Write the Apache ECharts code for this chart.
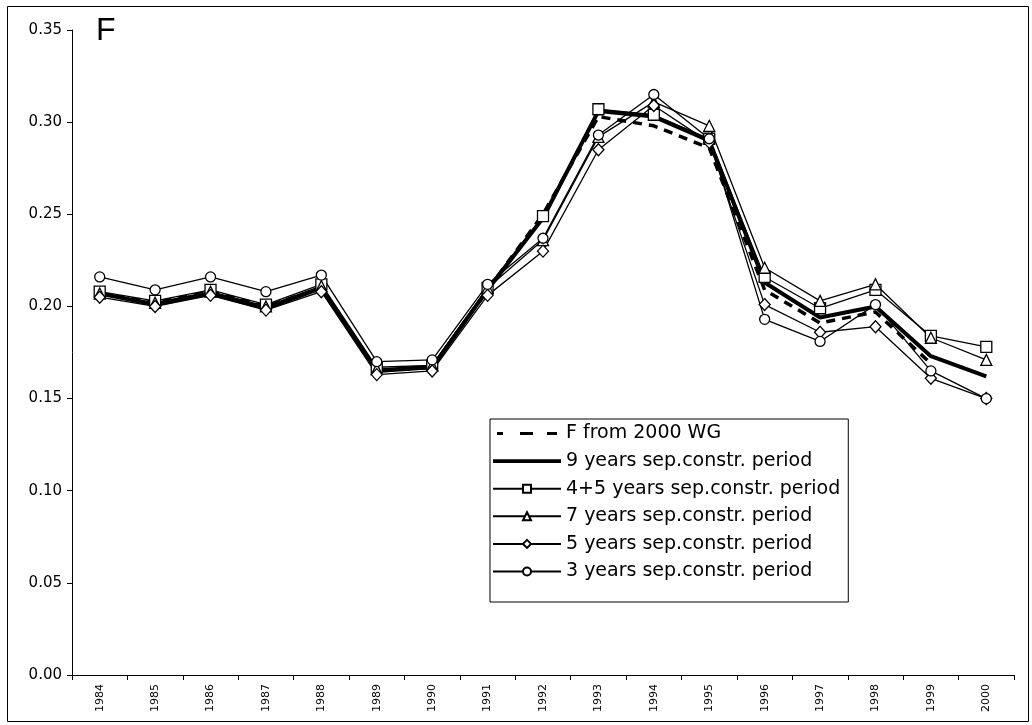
<!DOCTYPE html>
<html>
<head>
<meta charset="utf-8">
<script src="https://cdn.jsdelivr.net/npm/echarts@6/dist/echarts.min.js"></script>
<style>
  html, body { margin: 0; padding: 0; background: #fff; }
  #chart { width: 1032px; height: 725px; }
</style>
</head>
<body>
<div id="chart"></div>
<script>
// Fishing mortality F by year, for several separable-constraint periods
const years = ['1984','1985','1986','1987','1988','1989','1990','1991','1992',
               '1993','1994','1995','1996','1997','1998','1999','2000'];

const fWG2000 = [0.207,0.202,0.208,0.200,0.210,0.165,0.167,0.209,0.250,
                 0.303,0.298,0.286,0.209,0.191,0.197,0.169,null];
const sep9    = [0.207,0.201,0.207,0.199,0.210,0.165,0.167,0.209,0.248,
                 0.306,0.303,0.290,0.213,0.194,0.200,0.173,0.162];
const sep4p5  = [0.208,0.203,0.209,0.201,0.212,0.167,0.168,0.210,0.249,
                 0.307,0.304,0.291,0.216,0.199,0.209,0.184,0.178];
const sep7    = [0.207,0.202,0.208,0.200,0.211,0.166,0.168,0.210,0.236,
                 0.292,0.311,0.298,0.221,0.203,0.212,0.183,0.171];
const sep5    = [0.205,0.200,0.206,0.198,0.208,0.163,0.165,0.206,0.230,
                 0.285,0.309,0.289,0.201,0.186,0.189,0.161,0.150];
const sep3    = [0.216,0.209,0.216,0.208,0.217,0.170,0.171,0.212,0.237,
                 0.293,0.315,0.291,0.193,0.181,0.201,0.165,0.150];

const yTicks = { min: 0, max: 0.35, step: 0.05 };

const FONT = 'DejaVu Sans';

// Legend glyphs for the two marker-less series (bounding box 68 x 10,
// degenerate corner points keep the full box so the bars keep their thickness)
const BOX = 'M0,0 L0,0 Z M68,10 L68,10 Z ';
const dashedIcon = 'path://' + BOX +
  'M4,3.5 L10,3.5 L10,6.5 L4,6.5 Z M27,3.5 L40,3.5 L40,6.5 L27,6.5 Z M54,3.5 L64,3.5 L64,6.5 L54,6.5 Z';
const thickIcon = 'path://' + BOX + 'M0,3.2 L68,3.2 L68,6.8 L0,6.8 Z';

function markedLine(name, data, symbol, size) {
  return {
    name, type: 'line', data,
    symbol, symbolSize: size, showSymbol: true,
    lineStyle: { color: '#000', width: 1.3 },
    itemStyle: { color: '#fff', borderColor: '#000', borderWidth: 1.3 },
    emphasis: { disabled: true }
  };
}

const chart = echarts.init(document.getElementById('chart'), null, { renderer: 'canvas' });

chart.setOption({
  backgroundColor: '#fff',
  animation: false,
  textStyle: { fontFamily: FONT, color: '#000' },
  graphic: [
    {
      type: 'rect',
      shape: { x: 7.5, y: 6.5, width: 1021, height: 715 },
      style: { fill: 'none', stroke: '#000', lineWidth: 1 },
      silent: true
    },
    {
      type: 'text',
      left: 96, top: 15,
      style: { text: 'F', font: '32px "Liberation Sans", Arial, sans-serif', fill: '#000' },
      silent: true
    }
  ],
  grid: { left: 72, top: 30, right: 18, bottom: 50, containLabel: false },
  legend: {
    orient: 'vertical',
    left: 490, top: 419,
    padding: [5, 8, 21, 2],
    itemWidth: 68, itemHeight: 10, itemGap: 8.6,
    borderColor: '#000', borderWidth: 1,
    backgroundColor: '#fff',
    selectedMode: false,
    textStyle: { fontFamily: FONT, fontSize: 19, lineHeight: 19, color: '#000' },
    data: [
      { name: 'F from 2000 WG', icon: dashedIcon, itemStyle: { color: '#000' } },
      { name: '9 years sep.constr. period', icon: thickIcon, itemStyle: { color: '#000' } },
      '4+5 years sep.constr. period',
      '7 years sep.constr. period',
      '5 years sep.constr. period',
      '3 years sep.constr. period'
    ]
  },
  xAxis: {
    type: 'category',
    data: years,
    boundaryGap: true,
    axisLine: { lineStyle: { color: '#000', width: 1 } },
    axisTick: { show: true, length: 5, lineStyle: { color: '#000' } },
    axisLabel: { rotate: 90, fontSize: 11, margin: 9, color: '#000', fontFamily: FONT },
    splitLine: { show: false }
  },
  yAxis: {
    type: 'value',
    min: yTicks.min, max: yTicks.max, interval: yTicks.step,
    axisLine: { show: true, lineStyle: { color: '#000', width: 1 } },
    axisTick: { show: true, length: 5, lineStyle: { color: '#000' } },
    axisLabel: {
      fontSize: 15, margin: 10, color: '#000', fontFamily: FONT,
      formatter: v => v.toFixed(2)
    },
    splitLine: { show: false }
  },
  series: [
    {
      name: 'F from 2000 WG', type: 'line', data: fWG2000,
      symbol: 'none', connectNulls: false,
      lineStyle: { color: '#000', width: 3.5, type: [9, 7] },
      itemStyle: { color: '#000' },
      emphasis: { disabled: true }
    },
    {
      name: '9 years sep.constr. period', type: 'line', data: sep9,
      symbol: 'none',
      lineStyle: { color: '#000', width: 4 },
      itemStyle: { color: '#000' },
      emphasis: { disabled: true }
    },
    markedLine('4+5 years sep.constr. period', sep4p5, 'rect', 11),
    markedLine('7 years sep.constr. period', sep7, 'triangle', 11),
    markedLine('5 years sep.constr. period', sep5, 'diamond', [11, 12]),
    markedLine('3 years sep.constr. period', sep3, 'circle', 10)
  ]
});
</script>
</body>
</html>
